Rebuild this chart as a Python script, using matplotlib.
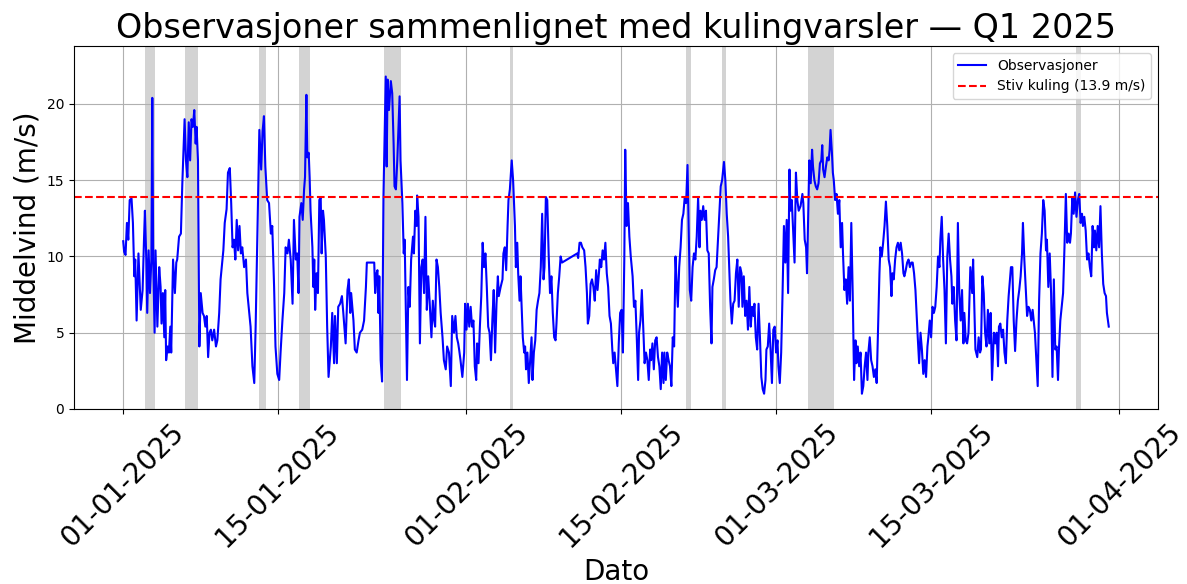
import matplotlib
matplotlib.use('Agg')
import matplotlib.pyplot as plt
import matplotlib.dates as mdates
import pandas as pd

START = pd.Timestamp('2025-01-01 00:00')
THRESHOLD = 13.9

# observasjoner: timer etter start, middelvind (m/s)
obs_hours = [
    1, 3, 6, 9, 12, 15, 19, 22, 25, 27, 30, 34, 39, 43, 46, 48, 51, 53, 56, 59,
    62, 64, 66, 69, 71, 75, 79, 82, 84, 87, 90, 92, 94, 97, 100, 103, 105, 109, 113, 116,
    118, 122, 126, 129, 134, 137, 140, 143, 146, 149, 152, 155, 158, 160, 163, 166, 169, 173, 176, 179,
    182, 185, 188, 191, 194, 198, 202, 205, 209, 212, 218, 221, 225, 228, 232, 235, 238, 241, 244, 247,
    250, 253, 256, 259, 263, 267, 270, 277, 281, 285, 288, 292, 296, 300, 303, 306, 309, 313, 317, 321,
    324, 328, 331, 335, 339, 342, 346, 350, 353, 357, 360, 364,
    368, 371, 375, 378, 381, 383, 387, 390, 393, 395, 398, 400, 403, 405, 407, 411, 413, 415, 417, 420,
    423, 426, 429, 431, 434, 436, 440, 443, 446, 451, 454, 458, 460, 464, 467, 471, 475, 478, 483, 487,
    490, 493, 495, 500, 503, 507, 511, 514, 519, 523, 527, 529, 545, 547, 550, 552, 554, 556, 559, 562,
    565, 568, 570, 572, 574, 577, 581, 584, 587, 589, 592, 595, 600, 602, 606, 609, 611, 614, 616, 619,
    622, 625, 629, 631, 634, 637, 638, 641, 644, 647, 650, 653, 656, 659, 662, 665, 669, 672, 675, 677,
    680, 683, 686, 689, 693, 696, 700, 703, 707,
    711, 714, 718, 721, 724, 727, 729, 732, 736, 740, 742, 745, 748, 751, 754, 757, 760, 763, 766, 768,
    771, 774, 777, 780, 783, 786, 789, 792, 795, 798, 801, 804, 807, 810, 813, 815, 819, 823, 825, 828,
    831, 834, 836, 839, 843, 846, 848, 850, 852, 855, 857, 860, 862, 865, 867, 870, 872, 874, 877, 880,
    883, 886, 888, 891, 894, 897, 900, 903, 906, 909, 912, 914, 917, 920, 923, 926, 929, 932, 935, 938,
    940, 943, 946, 949, 952, 985, 987, 990, 993, 996, 1000, 1003, 1006, 1008, 1011, 1014, 1017, 1020, 1023, 1026,
    1029, 1032, 1034, 1037, 1040, 1043, 1046, 1049, 1052, 1055, 1058, 1061, 1063, 1066, 1069, 1072, 1075, 1078, 1081, 1084,
    1087, 1089, 1092, 1095, 1098, 1101,
    1105, 1108, 1111, 1114, 1117, 1119, 1122, 1125, 1128, 1131, 1134, 1137, 1140, 1143, 1145, 1148, 1151, 1154, 1157, 1160,
    1163, 1166, 1169, 1172, 1174, 1177, 1180, 1183, 1186, 1189, 1192, 1195, 1198, 1200, 1203, 1206, 1209, 1212, 1215, 1218,
    1221, 1224, 1226, 1229, 1232, 1235, 1238, 1241, 1244, 1247, 1250, 1252, 1255, 1258, 1261, 1264, 1267, 1270, 1273, 1276,
    1278, 1281, 1284, 1287, 1290, 1293, 1296, 1299, 1303, 1306, 1309, 1312, 1315, 1317, 1320, 1323, 1326, 1329, 1332, 1335,
    1338, 1341, 1343, 1346, 1349, 1352, 1355, 1358, 1361, 1364, 1367, 1369, 1372, 1375, 1378, 1381, 1384, 1387, 1390, 1393,
    1395, 1398, 1401, 1404, 1407, 1410, 1413, 1416, 1419, 1421, 1424, 1427, 1430, 1433, 1436, 1439, 1442, 1445, 1447, 1450,
    1453, 1456, 1459, 1462,
    1465, 1469, 1473, 1475, 1478, 1481, 1483, 1485, 1488, 1491, 1494, 1496, 1499, 1502, 1505, 1508, 1511, 1514, 1516, 1518,
    1521, 1524, 1527, 1530, 1532, 1534, 1537, 1539, 1541, 1544, 1547, 1550, 1553, 1556, 1559, 1561, 1564, 1567, 1570, 1573,
    1576, 1579, 1582, 1585, 1588, 1590, 1593, 1596, 1599, 1602, 1605, 1608, 1611, 1614, 1616, 1619, 1622, 1625, 1628, 1631,
    1634, 1637, 1640, 1642, 1645, 1648, 1651, 1654, 1657, 1660, 1663, 1666, 1668, 1671, 1674, 1677, 1680, 1683, 1686, 1689,
    1692, 1694, 1697, 1700, 1703, 1706, 1709, 1712, 1715, 1718, 1720, 1723, 1726, 1729, 1732, 1735, 1738, 1741, 1744, 1746,
    1749, 1752, 1755, 1758, 1761, 1764, 1767, 1770, 1772, 1775, 1778, 1781, 1784, 1787, 1790, 1793, 1796, 1798, 1801, 1804,
    1807, 1810, 1813, 1816, 1819, 1822,
    1824, 1827, 1830, 1833, 1837, 1841, 1843, 1846, 1848, 1852, 1855, 1858, 1860, 1863, 1866, 1869, 1872, 1875, 1878, 1881,
    1884, 1888, 1891, 1894, 1897, 1899, 1902, 1905, 1908, 1911, 1914, 1917, 1920, 1923, 1925, 1928, 1931, 1934, 1937, 1940,
    1943, 1946, 1949, 1951, 1954, 1957, 1960, 1963, 1966, 1969, 1972, 1975, 1977, 1980, 1983, 1986, 1989, 1992, 1995, 1998,
    2001, 2003, 2006, 2009, 2012, 2015, 2018, 2021, 2024, 2027, 2029, 2032, 2035, 2038, 2041, 2044, 2047, 2050, 2053, 2055,
    2058, 2061, 2064, 2067, 2070, 2073, 2076, 2079, 2081, 2084, 2087, 2090, 2093, 2096, 2099, 2102, 2105, 2107, 2110, 2113,
    2116, 2119, 2122, 2125, 2128, 2131, 2133, 2137,
]
obs_wind = [
    11.0, 10.3, 10.1, 12.2, 11.1, 13.7, 13.8, 12.2, 8.7, 9.8, 5.8, 10.2, 6.5, 7.8, 11.1, 13.0, 9.8, 6.3, 10.4, 7.6,
    9.8, 20.4, 9.8, 5.0, 10.4, 5.4, 9.3, 8.0, 5.6, 7.6, 4.7, 7.8, 3.2, 4.1, 3.7, 5.4, 3.7, 9.8, 7.6, 9.6,
    9.8, 11.3, 11.5, 14.7, 19.0, 16.3, 15.2, 18.8, 16.3, 19.0, 18.5, 19.6, 17.4, 18.5, 16.3, 4.1, 7.6, 6.3, 6.1, 5.4,
    6.1, 3.4, 5.0, 5.2, 4.5, 5.2, 4.1, 4.5, 6.3, 8.5, 10.4, 12.2, 13.1, 15.5, 15.8, 13.5, 10.6, 11.1, 9.8, 12.4,
    10.4, 12.0, 10.2, 10.6, 9.3, 9.8, 7.6, 5.4, 2.8, 1.7, 5.4, 11.7, 18.3, 15.7, 18.2, 19.2, 15.9, 13.7, 13.5, 11.5,
    12.0, 8.0, 4.1, 2.3, 1.9, 3.7, 5.8, 7.6, 10.6, 10.2, 11.1, 9.8,
    6.9, 12.4, 9.8, 10.2, 7.6, 12.6, 13.5, 12.4, 14.4, 15.2, 20.6, 16.5, 16.8, 15.2, 13.0, 10.6, 8.0, 9.8, 6.5, 8.9,
    7.6, 13.7, 13.9, 10.2, 13.0, 12.4, 10.0, 5.4, 2.1, 4.1, 6.3, 3.0, 6.1, 3.0, 6.7, 6.9, 7.4, 6.3, 4.3, 7.8,
    8.5, 6.3, 7.6, 5.8, 3.9, 3.7, 4.5, 5.0, 5.2, 5.8, 8.0, 9.6, 9.6, 7.6, 8.9, 9.1, 6.3, 8.7, 3.2, 1.8,
    13.9, 18.5, 21.8, 15.9, 21.6, 19.6, 21.5, 20.7, 17.4, 14.6, 14.4, 16.3, 20.5, 16.3, 13.5, 10.2, 11.1, 5.4, 1.9, 8.0,
    6.7, 9.8, 11.3, 10.2, 13.0, 12.0, 14.0, 12.6, 4.3, 9.3, 9.8, 7.6, 12.6, 6.5, 8.7, 7.1, 4.7, 7.1, 5.8, 5.4,
    9.8, 9.3, 8.0, 6.3, 4.7, 3.2, 2.6, 4.1, 3.7,
    1.5, 6.1, 5.0, 6.1, 4.7, 4.3, 3.9, 3.2, 2.1, 3.7, 6.9, 5.2, 6.9, 5.4, 6.7, 5.4, 5.8, 2.8, 1.9, 4.3,
    3.0, 5.4, 7.4, 10.9, 9.3, 10.2, 8.0, 5.4, 5.0, 3.2, 5.8, 7.8, 3.7, 6.9, 8.7, 7.4, 8.0, 8.5, 10.2, 10.6,
    9.1, 12.0, 13.7, 14.4, 16.3, 15.0, 13.5, 12.0, 9.3, 10.9, 8.9, 7.1, 8.7, 6.3, 4.7, 3.7, 4.1, 2.6, 3.7, 1.7,
    3.2, 4.7, 1.9, 3.7, 4.5, 6.5, 7.1, 7.6, 9.3, 12.8, 8.5, 9.3, 13.9, 13.7, 10.2, 7.6, 8.7, 6.3, 4.7, 4.5,
    5.6, 7.6, 8.7, 10.0, 9.6, 10.2, 9.9, 10.9, 10.9, 10.6, 10.4, 9.3, 7.6, 5.6, 6.1, 8.2, 8.5, 8.0, 7.1, 9.1,
    7.8, 8.9, 9.8, 9.3, 10.4, 9.8, 10.9, 8.9, 8.0, 6.1, 5.6, 3.9, 3.0, 3.7, 2.6, 1.5, 4.3, 6.3, 6.5, 3.7,
    9.8, 17.0, 12.0, 13.5, 11.3, 10.0,
    8.7, 6.7, 7.1, 4.7, 1.9, 5.0, 5.8, 7.8, 5.4, 3.0, 3.7, 3.2, 1.9, 3.9, 3.2, 4.3, 2.6, 4.5, 4.7, 3.4,
    2.8, 1.3, 3.7, 1.7, 3.7, 1.9, 3.7, 3.2, 2.8, 1.5, 4.7, 4.1, 10.0, 8.5, 6.7, 9.3, 10.6, 12.4, 12.8, 13.9,
    13.5, 16.0, 12.6, 7.8, 7.1, 9.3, 10.2, 9.8, 11.3, 13.9, 10.6, 13.0, 12.4, 13.3, 12.4, 13.0, 10.4, 10.2, 6.7, 4.3,
    8.0, 8.5, 9.1, 9.3, 11.1, 13.0, 14.6, 15.0, 16.2, 15.0, 12.8, 11.3, 8.7, 7.1, 5.6, 6.9, 7.1, 8.9, 9.8, 6.7,
    9.3, 8.9, 6.7, 8.7, 6.1, 7.1, 5.2, 8.0, 5.4, 6.7, 6.1, 6.9, 4.7, 3.9, 6.9, 4.7, 2.1, 1.3, 1.0, 1.9,
    3.9, 4.1, 5.6, 3.9, 1.7, 5.2, 5.4, 3.7, 4.5, 2.8, 1.7, 3.7, 7.6, 12.0, 9.6, 12.4, 7.6, 15.7, 13.0, 13.7,
    11.7, 9.6, 15.5, 13.7,
    13.0, 13.3, 14.1, 13.5, 11.1, 10.6, 8.9, 12.0, 16.3, 14.8, 17.0, 15.9, 15.0, 14.6, 14.4, 14.8, 16.1, 16.3, 17.3, 15.7,
    15.2, 15.9, 16.5, 16.3, 17.0, 18.3, 16.8, 15.5, 15.0, 13.7, 14.1, 12.8, 13.7, 10.6, 12.2, 10.2, 7.8, 8.5, 6.9, 9.3,
    7.1, 12.2, 7.6, 1.9, 4.5, 3.0, 4.1, 2.8, 3.7, 1.0, 1.5, 2.8, 3.7, 1.9, 3.7, 4.7, 3.2, 2.8, 2.1, 2.6,
    1.7, 5.4, 8.9, 10.6, 10.0, 10.9, 12.0, 13.6, 12.0, 9.8, 9.3, 7.4, 8.9, 8.5, 9.8, 10.6, 10.9, 10.4, 10.9, 10.2,
    8.9, 8.7, 9.1, 9.6, 9.8, 9.3, 9.6, 9.6, 8.9, 7.8, 6.5, 4.7, 3.0, 5.0, 3.9, 2.3, 3.2, 2.1, 4.1, 4.7,
    5.8, 4.7, 6.7, 6.3, 6.7, 8.0, 10.0, 9.3, 11.1, 12.6, 9.8, 7.8, 4.3, 10.0, 11.5, 9.8, 8.7, 6.9, 8.0, 5.8,
    4.5, 12.2, 7.6, 5.8, 7.8, 4.3,
    6.3, 4.5, 4.3, 5.0, 9.3, 7.6, 9.8, 6.3, 3.9, 3.4, 4.7, 3.7, 3.9, 8.7, 7.6, 5.0, 4.1, 6.5, 4.3, 6.3,
    1.9, 5.0, 4.3, 5.0, 2.8, 5.4, 5.6, 4.7, 5.2, 3.7, 3.0, 5.8, 7.4, 8.5, 9.3, 9.3, 5.8, 3.8, 5.8, 7.1,
    7.8, 8.7, 10.2, 12.2, 9.8, 8.0, 6.1, 6.7, 6.5, 5.8, 6.5, 5.6, 5.0, 3.2, 1.5, 7.1, 10.2, 11.5, 13.7, 13.0,
    10.4, 11.1, 8.0, 10.2, 7.6, 2.1, 8.5, 3.9, 4.1, 1.9, 3.9, 5.8, 6.7, 7.6, 10.6, 14.1, 10.9, 11.5, 10.9, 11.5,
    13.9, 12.8, 14.2, 12.6, 13.7, 14.1, 12.2, 12.8, 12.0, 12.6, 11.7, 9.8, 10.2, 9.3, 8.7, 12.0, 10.6, 11.7, 10.4, 12.0,
    10.6, 13.3, 10.2, 8.2, 7.6, 7.4, 6.3, 5.4,
]

# kulingvarsler: start/slutt i timer etter start
gale_start = [48, 57, 134, 295, 382, 566, 839, 1221, 1298, 1485, 2066]
gale_end = [57, 70, 163, 311, 406, 604, 846, 1231, 1308, 1542, 2077]

obs_time = START + pd.to_timedelta(obs_hours, unit='h')

fig = plt.figure(figsize=(11.87, 5.84), dpi=100)
ax = fig.add_subplot(111)
fig.subplots_adjust(left=0.0623, right=0.9756, top=0.9212, bottom=0.2997)

for s, e in zip(gale_start, gale_end):
    ax.axvspan(START + pd.Timedelta(hours=s), START + pd.Timedelta(hours=e),
               color='lightgray', linewidth=0)

ax.plot(obs_time, obs_wind, color='blue', linewidth=1.5, label='Observasjoner')
ax.axhline(THRESHOLD, color='red', linestyle='--', linewidth=1.5,
           label=f'Stiv kuling ({THRESHOLD} m/s)')

ax.set_ylim(0, 23.8)
ax.xaxis.set_major_locator(mdates.DayLocator(bymonthday=[1, 15]))
ax.xaxis.set_major_formatter(mdates.DateFormatter('%d-%m-%Y'))
ax.tick_params(axis='x', labelsize=20, labelrotation=45)
ax.grid(True)

ax.set_title('Observasjoner sammenlignet med kulingvarsler — Q1 2025', fontsize=24)
ax.set_xlabel('Dato', fontsize=20)
ax.set_ylabel('Middelvind (m/s)', fontsize=20)
ax.legend(loc='upper right')

fig.savefig('out.png', dpi=100, facecolor='white')
